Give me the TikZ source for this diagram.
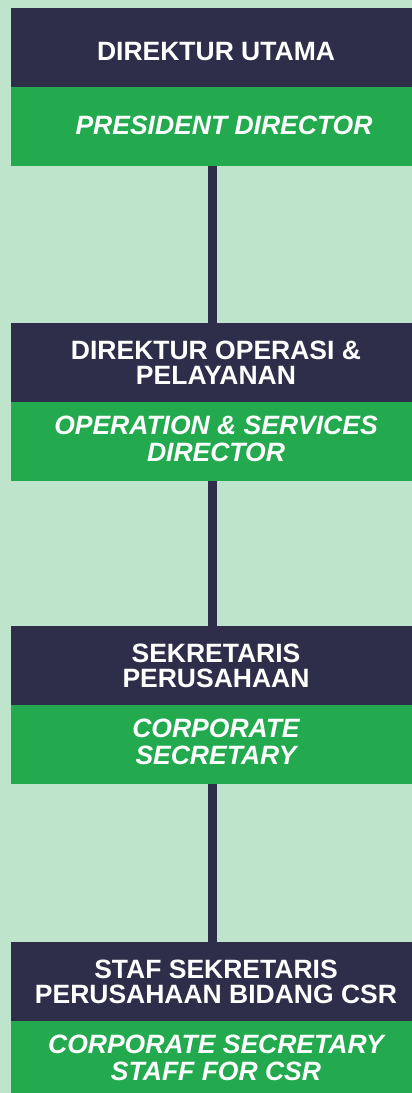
\documentclass[tikz,border=0pt]{standalone}
\usepackage{fontspec}
\setmainfont{Liberation Sans}
\usepackage{xcolor}
\usetikzlibrary{positioning}

\definecolor{navy}{RGB}{47,46,74}
\definecolor{leaf}{RGB}{35,170,79}
\definecolor{mint}{RGB}{190,229,203}

\begin{document}
\begin{tikzpicture}[
  x=1pt, y=1pt,
  node distance=0pt,
  head/.style={rectangle, fill=navy, text=white, minimum width=410pt, minimum height=79pt, inner sep=0pt, outer sep=0pt, align=center, font=\bfseries\fontsize{26.5}{25}\selectfont},
  role/.style={rectangle, fill=leaf, text=white, minimum width=410pt, minimum height=79pt, inner sep=0pt, outer sep=0pt, align=center, text depth=6pt, font=\bfseries\itshape\fontsize{26.5}{26.5}\selectfont},
  link/.style={draw=navy, line width=9pt},
]
  % Background
  \fill[mint] (0,0) rectangle (412,-1093);
  \useasboundingbox (0,0) rectangle (412,-1093);
  \coordinate (spine) at (212.5,0);

  % Director level
  \node[head, anchor=north west, text height=27pt] (dirut) at (11,-8) {DIREKTUR UTAMA};
  \node[role, below=of dirut, text depth=3pt] (dirutEn) {\hspace*{16pt}PRESIDENT DIRECTOR};

  % Operations director
  \node[head, below=157pt of dirutEn] (dirops) {DIREKTUR OPERASI \&\\PELAYANAN};
  \node[role, below=of dirops] (diropsEn) {OPERATION \& SERVICES\\DIRECTOR};

  % Corporate secretary
  \node[head, below=145pt of diropsEn] (sekper) {SEKRETARIS\\PERUSAHAAN};
  \node[role, below=of sekper] (sekperEn) {CORPORATE\\SECRETARY};

  % CSR staff
  \node[head, below=158pt of sekperEn] (csr) {STAF SEKRETARIS\\PERUSAHAAN BIDANG CSR};
  \node[role, below=of csr] (csrEn) {CORPORATE SECRETARY\\STAFF FOR CSR};

  % Reporting lines
  \draw[link] (dirutEn.south -| spine) -- (dirops.north -| spine);
  \draw[link] (diropsEn.south -| spine) -- (sekper.north -| spine);
  \draw[link] (sekperEn.south -| spine) -- (csr.north -| spine);
\end{tikzpicture}
\end{document}
